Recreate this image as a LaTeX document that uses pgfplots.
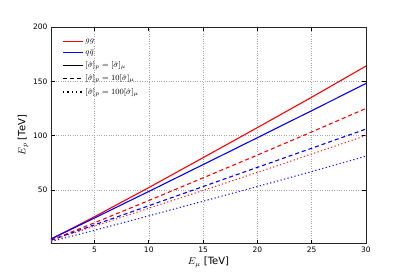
\documentclass[border=0pt]{standalone}
\usepackage{pgfplots}
\pgfplotsset{compat=1.18}
\usepackage{fontspec}
\setmainfont{DejaVu Sans}
\begin{document}
\begin{tikzpicture}[x=1pt,y=1pt]
\begin{axis}[
  scale only axis, width=315pt, height=216pt,
  xmin=1, xmax=30, ymin=1, ymax=200,
  xtick={5,10,15,20,25,30}, ytick={50,100,150,200},
  tick align=inside, major tick length=3.5pt,
  xtick pos=both, ytick pos=both,
  grid=major, major grid style={gray!70, dotted, line width=0.5pt},
  axis line style={line width=0.9pt, black!85},
  tick style={black, line width=0.6pt},
  /pgf/number format/assume math mode=true,
  ticklabel style={font=\fontsize{7.5}{9}\selectfont},
  xlabel={$E_\mu$ [TeV]}, ylabel={$E_p$ [TeV]},
  label style={font=\fontsize{10}{12}\selectfont},
  xlabel style={yshift=2pt}, ylabel style={yshift=-2pt},
  legend style={at={(0.025,0.965)}, anchor=north west, draw=none, fill=none,
    font=\fontsize{8.5}{9.5}\selectfont, row sep=1.9pt},
  legend cell align=left,
  legend image code/.code={\draw[#1, line width=1.4pt] (0pt,0pt) -- (20pt,0pt);},
]
\coordinate (sw) at (rel axis cs:0,0);
\coordinate (ne) at (rel axis cs:1,1);
% solid
\addplot[red, line width=1.1pt] coordinates {(1,4.7) (2,9.7) (5,25.2) (10,52) (15,79.6) (20,107.3) (25,135.3) (30,164)};
\addlegendentry{$gg$}
\addplot[blue, line width=1.1pt] coordinates {(1,4.7) (2,9.5) (5,24.0) (10,48.5) (15,73.2) (20,98) (25,122.9) (30,148)};
\addlegendentry{$q\bar q$}
\addlegendimage{black}
\addlegendentry{$[\hat\sigma]_p=[\hat\sigma]_\mu$}
\addlegendimage{black, dash pattern=on 4pt off 3pt}
\addlegendentry{$[\hat\sigma]_p=10[\hat\sigma]_\mu$}
\addlegendimage{black, dash pattern=on 1.4pt off 3pt}
\addlegendentry{$[\hat\sigma]_p=100[\hat\sigma]_\mu$}
% dashed
\addplot[red, line width=1.1pt, dash pattern=on 4pt off 3pt, forget plot] coordinates {(1,3.7) (2,7.6) (5,19.6) (10,40.1) (15,61) (20,82) (25,103.3) (30,125)};
\addplot[blue, line width=1.1pt, dash pattern=on 4pt off 3pt, forget plot] coordinates {(1,3.5) (2,7.1) (5,17.7) (10,35.3) (15,53) (20,70.7) (25,88.3) (30,106)};
% dotted
\addplot[red!85, line width=1.1pt, dash pattern=on 1.2pt off 2.4pt, forget plot] coordinates {(1,3.3) (2,6.6) (5,16.5) (10,33) (15,49.4) (20,66) (25,83) (30,100)};
\addplot[blue!90, line width=1.1pt, dash pattern=on 1.2pt off 2.4pt, forget plot] coordinates {(1,2.4) (2,4.9) (5,12.7) (10,26) (15,39.5) (20,53) (25,66.8) (30,81)};
\end{axis}
\pgfresetboundingbox
\path[use as bounding box] ([xshift=-51pt,yshift=-28pt]sw) rectangle ([xshift=41pt,yshift=27pt]ne);
\end{tikzpicture}
\end{document}
